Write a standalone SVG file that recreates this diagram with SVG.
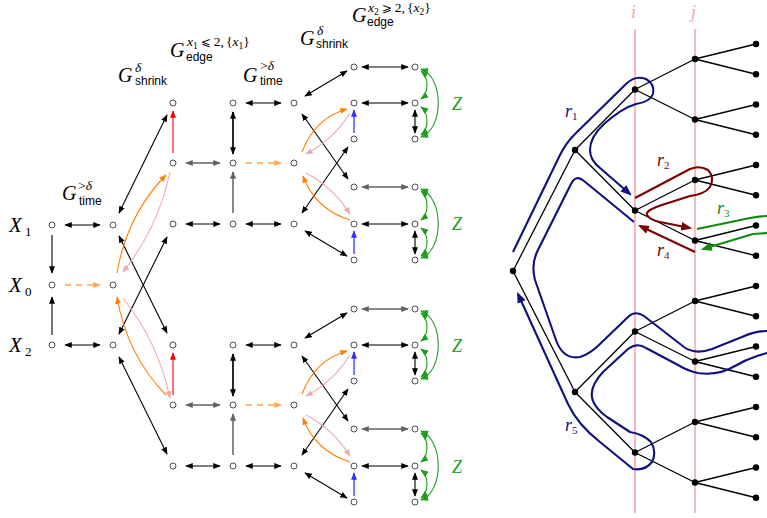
<svg xmlns="http://www.w3.org/2000/svg" width="767" height="518" viewBox="0 0 767 518">
<style>
.nd{fill:#fff;stroke:#3a3a3a;stroke-width:0.9}
.td{fill:#000}
.te{stroke:#000;stroke-width:1.3}
.c{fill:none;stroke-width:1.1}
.kd{stroke:#000;marker-start:url(#ak);marker-end:url(#ak)}
.kt{stroke-width:1.7}
.gd{stroke:#606060;stroke-width:1.5;marker-start:url(#ag);marker-end:url(#ag)}
.ge{stroke:#606060;stroke-width:1.5;marker-end:url(#ag)}
.ke{stroke:#000;marker-end:url(#ak)}
.re{stroke:#ff0000;marker-end:url(#ar)}
.oe{stroke:#ff8000;marker-end:url(#ao)}
.od{stroke:#ffa34d;stroke-width:1.3;stroke-dasharray:6 5;marker-end:url(#aod)}
.pe{stroke:#e9abab;marker-end:url(#ap)}
.be{stroke:#5c5cff;stroke-width:1.6;marker-end:url(#ab)}
.zd{stroke:#1e9e1e;marker-start:url(#az);marker-end:url(#az)}
.pk{stroke:#f5a5a5;stroke-width:1.5}
.rt{fill:none;stroke-width:2.1;stroke-linejoin:round}
.nv{stroke:#10107f}
.dr{stroke:#7f0000}
.dg{stroke:#128a12}
.m{font-family:"Liberation Serif","DejaVu Serif",serif;font-style:italic}
.u{font-family:"Liberation Serif","DejaVu Serif",serif;font-style:normal}
.rel{font-family:"DejaVu Sans","Liberation Sans",sans-serif;font-style:normal;font-size:12px}
.s{font-family:"Liberation Sans","DejaVu Sans",sans-serif}
.G{font-size:20px}
.sup{font-size:13.5px}
.ss{font-size:9.5px}
.sub{font-size:12px}
</style>
<defs>
<marker id="ak" viewBox="0 0 10 8" refX="9" refY="4" markerWidth="7.5" markerHeight="6" markerUnits="userSpaceOnUse" orient="auto-start-reverse"><path d="M0,0 L10,4 L0,8 Z" fill="#000"/></marker>
<marker id="ag" viewBox="0 0 10 8" refX="9" refY="4" markerWidth="7.5" markerHeight="6" markerUnits="userSpaceOnUse" orient="auto-start-reverse"><path d="M0,0 L10,4 L0,8 Z" fill="#606060"/></marker>
<marker id="ar" viewBox="0 0 10 8" refX="9" refY="4" markerWidth="7.5" markerHeight="6" markerUnits="userSpaceOnUse" orient="auto-start-reverse"><path d="M0,0 L10,4 L0,8 Z" fill="#ff0000"/></marker>
<marker id="ao" viewBox="0 0 10 8" refX="9" refY="4" markerWidth="7.5" markerHeight="6" markerUnits="userSpaceOnUse" orient="auto-start-reverse"><path d="M0,0 L10,4 L0,8 Z" fill="#ff8000"/></marker>
<marker id="aod" viewBox="0 0 10 8" refX="9" refY="4" markerWidth="7.5" markerHeight="6" markerUnits="userSpaceOnUse" orient="auto-start-reverse"><path d="M0,0 L10,4 L0,8 Z" fill="#ffa34d"/></marker>
<marker id="ap" viewBox="0 0 10 8" refX="9" refY="4" markerWidth="7.5" markerHeight="6" markerUnits="userSpaceOnUse" orient="auto-start-reverse"><path d="M0,0 L10,4 L0,8 Z" fill="#e9abab"/></marker>
<marker id="ab" viewBox="0 0 10 8" refX="9" refY="4" markerWidth="7.5" markerHeight="6" markerUnits="userSpaceOnUse" orient="auto-start-reverse"><path d="M0,0 L10,4 L0,8 Z" fill="#3030ff"/></marker>
<marker id="az" viewBox="0 0 10 8" refX="9" refY="4" markerWidth="8" markerHeight="6.4" markerUnits="userSpaceOnUse" orient="auto-start-reverse"><path d="M0,0 L10,4 L0,8 Z" fill="#1e9e1e"/></marker>
<marker id="anv" viewBox="0 0 10 8" refX="8" refY="4" markerWidth="11" markerHeight="8.8" markerUnits="userSpaceOnUse" orient="auto-start-reverse"><path d="M0,0 L10,4 L0,8 Z" fill="#10107f"/></marker>
<marker id="adr" viewBox="0 0 10 8" refX="8" refY="4" markerWidth="11" markerHeight="8.8" markerUnits="userSpaceOnUse" orient="auto-start-reverse"><path d="M0,0 L10,4 L0,8 Z" fill="#7f0000"/></marker>
<marker id="adg" viewBox="0 0 10 8" refX="8" refY="4" markerWidth="11" markerHeight="8.8" markerUnits="userSpaceOnUse" orient="auto-start-reverse"><path d="M0,0 L10,4 L0,8 Z" fill="#128a12"/></marker>
</defs>
<rect width="767" height="518" fill="#fff"/>

<g id="labels-left">
<text class="m" x="9" y="232" font-size="21">X</text><text class="u" x="25" y="236" font-size="13">1</text>
<text class="m" x="9" y="292" font-size="21">X</text><text class="u" x="25" y="296" font-size="13">0</text>
<text class="m" x="9" y="352" font-size="21">X</text><text class="u" x="25" y="356" font-size="13">2</text>

<text class="m G" x="62" y="200">G</text><text class="sup" x="78" y="190"><tspan class="u">&gt;</tspan><tspan class="m">δ</tspan></text><text class="s sub" x="79" y="205">time</text>
<text class="m G" x="118" y="82">G</text><text class="m sup" x="135" y="72">δ</text><text class="s sub" x="135" y="85">shrink</text>
<text class="m G" x="170" y="57">G</text><text class="sup" x="187" y="46"><tspan class="m">x</tspan><tspan class="u ss" dy="2.5">1</tspan><tspan class="rel" dy="-2.5" dx="3">⩽</tspan><tspan class="u" dx="3">2,</tspan><tspan class="u" dx="2">{</tspan><tspan class="m">x</tspan><tspan class="u ss" dy="2.5">1</tspan><tspan class="u" dy="-2.5">}</tspan></text><text class="s sub" x="186" y="61">edge</text>
<text class="m G" x="243" y="82">G</text><text class="sup" x="260" y="70"><tspan class="u">&gt;</tspan><tspan class="m">δ</tspan></text><text class="s sub" x="260" y="85">time</text>
<text class="m G" x="300" y="45">G</text><text class="m sup" x="317" y="35">δ</text><text class="s sub" x="316" y="48">shrink</text>
<text class="m G" x="352" y="22">G</text><text class="sup" x="368" y="12"><tspan class="m">x</tspan><tspan class="u ss" dy="2.5">2</tspan><tspan class="rel" dy="-2.5" dx="3">⩾</tspan><tspan class="u" dx="3">2,</tspan><tspan class="u" dx="2">{</tspan><tspan class="m">x</tspan><tspan class="u ss" dy="2.5">2</tspan><tspan class="u" dy="-2.5">}</tspan></text><text class="s sub" x="367" y="26">edge</text>

<text class="m" x="452" y="110" font-size="18" fill="#1e9e1e">Z</text>
<text class="m" x="452" y="230" font-size="18" fill="#1e9e1e">Z</text>
<text class="m" x="452" y="352" font-size="18" fill="#1e9e1e">Z</text>
<text class="m" x="452" y="473" font-size="18" fill="#1e9e1e">Z</text>
</g>

<g id="connectors">
<g id="conn-left">
<line class="c kd" x1="65" y1="225" x2="100" y2="225"/>
<line class="c od" x1="65" y1="285" x2="100" y2="285"/>
<line class="c kd" x1="65" y1="345" x2="100" y2="345"/>
<line class="c ke" x1="52" y1="235" x2="52" y2="273"/>
<line class="c ke" x1="52" y1="335" x2="52" y2="297"/>
<line class="c kd" x1="119" y1="213" x2="167" y2="115"/>
<line class="c kd" x1="119" y1="236" x2="167" y2="333"/>
<line class="c kd" x1="119" y1="334" x2="167" y2="237"/>
<line class="c kd" x1="119" y1="357" x2="167" y2="454"/>
<path class="c oe" d="M117,273 Q127,215 166,175"/>
<path class="c pe" d="M170,172 Q158,228 123,272"/>
<path class="c oe" d="M166,395 Q127,355 117,297"/>
<path class="c pe" d="M123,298 Q158,342 170,398"/>
</g>
<g id="conn-upper">
<line class="c gd" x1="186" y1="163" x2="220" y2="163"/>
<line class="c kd" x1="186" y1="224" x2="220" y2="224"/>
<line class="c re" x1="173" y1="153" x2="173" y2="111"/>
<line class="c kd kt" x1="233" y1="112" x2="233" y2="154"/>
<line class="c ge" x1="233" y1="213" x2="233" y2="172"/>
<line class="c kd" x1="246" y1="103" x2="281" y2="103"/>
<line class="c od" x1="246" y1="163" x2="281" y2="163"/>
<line class="c kd" x1="246" y1="224" x2="281" y2="224"/>
<line class="c kd" x1="305" y1="96" x2="347" y2="71"/>
<line class="c kd" x1="302" y1="114" x2="348" y2="179"/>
<line class="c kd" x1="302" y1="213" x2="348" y2="147"/>
<line class="c kd" x1="305" y1="231" x2="347" y2="256"/>
<path class="c oe" d="M302,152 Q315,118 347,109"/>
<path class="c pe" d="M350,113 Q333,140 306,154"/>
<path class="c oe" d="M350,220 Q315,209 303,176"/>
<path class="c pe" d="M306,173 Q333,187 350,214"/>
<line class="c be" x1="354" y1="133" x2="354" y2="110"/>
<line class="c be" x1="354" y1="254" x2="354" y2="231"/>
<line class="c kd" x1="362" y1="67" x2="408" y2="67"/>
<line class="c kd" x1="362" y1="103" x2="408" y2="103"/>
<line class="c gd" x1="362" y1="187" x2="408" y2="187"/>
<line class="c kd" x1="362" y1="224" x2="408" y2="224"/>
<line class="c kd" x1="415" y1="110" x2="415" y2="133"/>
<line class="c kd" x1="415" y1="231" x2="415" y2="254"/>
<path class="c zd" d="M421,71 C429,77 429,93 421,99"/>
<path class="c zd" d="M421,107 C429,113 429,129 421,135"/>
<path class="c zd" d="M421,69 C444,77 444,129 421,137"/>
<path class="c zd" d="M421,191 C429,197 429,214 421,220"/>
<path class="c zd" d="M421,228 C429,234 429,250 421,256"/>
<path class="c zd" d="M421,189 C444,198 444,250 421,258"/>
</g>
<g id="conn-lower" transform="translate(0,242)">
<line class="c gd" x1="186" y1="163" x2="220" y2="163"/>
<line class="c kd" x1="186" y1="224" x2="220" y2="224"/>
<line class="c re" x1="173" y1="153" x2="173" y2="111"/>
<line class="c kd kt" x1="233" y1="112" x2="233" y2="154"/>
<line class="c ge" x1="233" y1="213" x2="233" y2="172"/>
<line class="c kd" x1="246" y1="103" x2="281" y2="103"/>
<line class="c od" x1="246" y1="163" x2="281" y2="163"/>
<line class="c kd" x1="246" y1="224" x2="281" y2="224"/>
<line class="c kd" x1="305" y1="96" x2="347" y2="71"/>
<line class="c kd" x1="302" y1="114" x2="348" y2="179"/>
<line class="c kd" x1="302" y1="213" x2="348" y2="147"/>
<line class="c kd" x1="305" y1="231" x2="347" y2="256"/>
<path class="c oe" d="M302,152 Q315,118 347,109"/>
<path class="c pe" d="M350,113 Q333,140 306,154"/>
<path class="c oe" d="M350,220 Q315,209 303,176"/>
<path class="c pe" d="M306,173 Q333,187 350,214"/>
<line class="c be" x1="354" y1="133" x2="354" y2="110"/>
<line class="c be" x1="354" y1="254" x2="354" y2="231"/>
<line class="c gd" x1="362" y1="67" x2="408" y2="67"/>
<line class="c kd" x1="362" y1="103" x2="408" y2="103"/>
<line class="c gd" x1="362" y1="187" x2="408" y2="187"/>
<line class="c kd" x1="362" y1="224" x2="408" y2="224"/>
<line class="c kd" x1="415" y1="110" x2="415" y2="133"/>
<line class="c kd" x1="415" y1="231" x2="415" y2="254"/>
<path class="c zd" d="M421,71 C429,77 429,93 421,99"/>
<path class="c zd" d="M421,107 C429,113 429,129 421,135"/>
<path class="c zd" d="M421,69 C444,77 444,129 421,137"/>
<path class="c zd" d="M421,191 C429,197 429,214 421,220"/>
<path class="c zd" d="M421,228 C429,234 429,250 421,256"/>
<path class="c zd" d="M421,189 C444,198 444,250 421,258"/>
</g>

<g id="conn-tree">
<line class="pk" x1="635" y1="29" x2="635" y2="513"/>
<line class="pk" x1="695" y1="29" x2="695" y2="513"/>
<g class="te">
<line x1="513" y1="271" x2="575" y2="150"/><line x1="513" y1="271" x2="575" y2="392"/>
<line x1="575" y1="150" x2="635" y2="89.5"/><line x1="575" y1="150" x2="635" y2="210.5"/>
<line x1="575" y1="392" x2="635" y2="331.5"/><line x1="575" y1="392" x2="635" y2="452.5"/>
<line x1="635" y1="89.5" x2="695" y2="59"/><line x1="635" y1="89.5" x2="695" y2="119.5"/>
<line x1="635" y1="210.5" x2="695" y2="180"/><line x1="635" y1="210.5" x2="695" y2="240.5"/>
<line x1="635" y1="331.5" x2="695" y2="301"/><line x1="635" y1="331.5" x2="695" y2="361.5"/>
<line x1="635" y1="452.5" x2="695" y2="422"/><line x1="635" y1="452.5" x2="695" y2="482.5"/>
<line x1="695" y1="59" x2="756" y2="44"/><line x1="695" y1="59" x2="756" y2="74.25"/>
<line x1="695" y1="119.5" x2="756" y2="104.5"/><line x1="695" y1="119.5" x2="756" y2="134.75"/>
<line x1="695" y1="180" x2="756" y2="165"/><line x1="695" y1="180" x2="756" y2="195.25"/>
<line x1="695" y1="240.5" x2="756" y2="225.5"/><line x1="695" y1="240.5" x2="756" y2="255.75"/>
<line x1="695" y1="301" x2="756" y2="286"/><line x1="695" y1="301" x2="756" y2="316.25"/>
<line x1="695" y1="361.5" x2="756" y2="346.5"/><line x1="695" y1="361.5" x2="756" y2="376.75"/>
<line x1="695" y1="422" x2="756" y2="407"/><line x1="695" y1="422" x2="756" y2="437.25"/>
<line x1="695" y1="482.5" x2="756" y2="467.5"/><line x1="695" y1="482.5" x2="756" y2="497.75"/>
</g>
<path class="rt nv" marker-end="url(#anv)" d="M513,252 L559,157 Q565,144 575,134 L626,84 Q635,75 646,79 Q655,84 653,94 Q650,102 636,104 Q622,108 604,124 Q590,137 590,150 Q590,160 600,168 L630,194"/>
<path class="rt dr" marker-end="url(#adr)" d="M635,198 L690,169 Q700,165 708,170 Q715,177 710,187 Q705,194 690,196 L665,204 Q645,210 647,215 Q650,220 660,222 L690,228"/>
<path class="rt dg" marker-end="url(#adg)" d="M697,229 L750,218 Q760,216 767,216 Q782,216 782,225 Q782,233 767,233 L753,234 L703,249"/>
<path class="rt dr" marker-end="url(#adr)" d="M695,252 L640,226"/>
<path class="rt nv" marker-end="url(#anv)" d="M634,222 L584,181 Q576,174 571,184 L537,252 Q531,265 535,280 L556,340 Q563,360 580,357 Q590,354 600,344 L628,317 Q635,310 644,316 L684,347 Q695,355 712,349 L742,337 Q755,331 767,331 Q782,331 782,342 Q782,353 767,353 L757,356 Q745,360 735,366 Q718,376 698,373 Q688,371 678,365 L646,348 Q637,342 628,349 L603,372 Q588,388 593,401 Q597,410 607,417 L630,432 Q643,434 651,442 Q657,452 652,462 Q645,471 633,469 L600,442 Q578,425 568,404 L518,294"/>
</g>
</g>

<g id="labels-tree">
<text class="m" x="631" y="18" font-size="18" fill="#f5a5a5">i</text>
<text class="m" x="691" y="18" font-size="18" fill="#f5a5a5">j</text>
<text class="m" x="565" y="117" font-size="18" fill="#10107f">r<tspan class="u" font-size="11" dy="3">1</tspan></text>
<text class="m" x="657" y="166" font-size="18" fill="#7f0000">r<tspan class="u" font-size="11" dy="3">2</tspan></text>
<text class="m" x="717" y="214" font-size="18" fill="#128a12">r<tspan class="u" font-size="11" dy="3">3</tspan></text>
<text class="m" x="657" y="256" font-size="18" fill="#7f0000">r<tspan class="u" font-size="11" dy="3">4</tspan></text>
<text class="m" x="565" y="431" font-size="18" fill="#10107f">r<tspan class="u" font-size="11" dy="3">5</tspan></text>
</g>

<g id="n-x1"><circle class="nd" cx="52" cy="225" r="3"/></g>
<g id="n-x0"><circle class="nd" cx="52" cy="285" r="3"/></g>
<g id="n-x2"><circle class="nd" cx="52" cy="345" r="3"/></g>
<g id="n-b1"><circle class="nd" cx="113" cy="225" r="3"/></g>
<g id="n-b0"><circle class="nd" cx="113" cy="285" r="3"/></g>
<g id="n-b2"><circle class="nd" cx="113" cy="345" r="3"/></g>
<g id="n-c1"><circle class="nd" cx="173" cy="103" r="3"/></g>
<g id="n-c2"><circle class="nd" cx="173" cy="163" r="3"/></g>
<g id="n-c3"><circle class="nd" cx="173" cy="224" r="3"/></g>
<g id="n-c4"><circle class="nd" cx="173" cy="345" r="3"/></g>
<g id="n-c5"><circle class="nd" cx="173" cy="405" r="3"/></g>
<g id="n-c6"><circle class="nd" cx="173" cy="466" r="3"/></g>
<g id="n-d1"><circle class="nd" cx="233" cy="103" r="3"/></g>
<g id="n-d2"><circle class="nd" cx="233" cy="163" r="3"/></g>
<g id="n-d3"><circle class="nd" cx="233" cy="224" r="3"/></g>
<g id="n-d4"><circle class="nd" cx="233" cy="345" r="3"/></g>
<g id="n-d5"><circle class="nd" cx="233" cy="405" r="3"/></g>
<g id="n-d6"><circle class="nd" cx="233" cy="466" r="3"/></g>
<g id="n-e1"><circle class="nd" cx="294" cy="103" r="3"/></g>
<g id="n-e2"><circle class="nd" cx="294" cy="163" r="3"/></g>
<g id="n-e3"><circle class="nd" cx="294" cy="224" r="3"/></g>
<g id="n-e4"><circle class="nd" cx="294" cy="345" r="3"/></g>
<g id="n-e5"><circle class="nd" cx="294" cy="405" r="3"/></g>
<g id="n-e6"><circle class="nd" cx="294" cy="466" r="3"/></g>
<g id="n-f1"><circle class="nd" cx="354" cy="67" r="3"/></g>
<g id="n-f2"><circle class="nd" cx="354" cy="103" r="3"/></g>
<g id="n-f3"><circle class="nd" cx="354" cy="139" r="3"/></g>
<g id="n-f4"><circle class="nd" cx="354" cy="187" r="3"/></g>
<g id="n-f5"><circle class="nd" cx="354" cy="224" r="3"/></g>
<g id="n-f6"><circle class="nd" cx="354" cy="260" r="3"/></g>
<g id="n-f7"><circle class="nd" cx="354" cy="309" r="3"/></g>
<g id="n-f8"><circle class="nd" cx="354" cy="345" r="3"/></g>
<g id="n-f9"><circle class="nd" cx="354" cy="381" r="3"/></g>
<g id="n-f10"><circle class="nd" cx="354" cy="429" r="3"/></g>
<g id="n-f11"><circle class="nd" cx="354" cy="466" r="3"/></g>
<g id="n-f12"><circle class="nd" cx="354" cy="502" r="3"/></g>
<g id="n-g1"><circle class="nd" cx="415" cy="67" r="3"/></g>
<g id="n-g2"><circle class="nd" cx="415" cy="103" r="3"/></g>
<g id="n-g3"><circle class="nd" cx="415" cy="139" r="3"/></g>
<g id="n-g4"><circle class="nd" cx="415" cy="187" r="3"/></g>
<g id="n-g5"><circle class="nd" cx="415" cy="224" r="3"/></g>
<g id="n-g6"><circle class="nd" cx="415" cy="260" r="3"/></g>
<g id="n-g7"><circle class="nd" cx="415" cy="309" r="3"/></g>
<g id="n-g8"><circle class="nd" cx="415" cy="345" r="3"/></g>
<g id="n-g9"><circle class="nd" cx="415" cy="381" r="3"/></g>
<g id="n-g10"><circle class="nd" cx="415" cy="429" r="3"/></g>
<g id="n-g11"><circle class="nd" cx="415" cy="466" r="3"/></g>
<g id="n-g12"><circle class="nd" cx="415" cy="502" r="3"/></g>

<g id="t-root"><circle class="td" cx="513" cy="271" r="3.2"/></g>
<g id="t-a"><circle class="td" cx="575" cy="150" r="3.2"/></g>
<g id="t-b"><circle class="td" cx="575" cy="392" r="3.2"/></g>
<g id="t-c1"><circle class="td" cx="635" cy="89.5" r="3.2"/></g>
<g id="t-c2"><circle class="td" cx="635" cy="210.5" r="3.2"/></g>
<g id="t-c3"><circle class="td" cx="635" cy="331.5" r="3.2"/></g>
<g id="t-c4"><circle class="td" cx="635" cy="452.5" r="3.2"/></g>
<g id="t-d1"><circle class="td" cx="695" cy="59" r="3.2"/></g>
<g id="t-d2"><circle class="td" cx="695" cy="119.5" r="3.2"/></g>
<g id="t-d3"><circle class="td" cx="695" cy="180" r="3.2"/></g>
<g id="t-d4"><circle class="td" cx="695" cy="240.5" r="3.2"/></g>
<g id="t-d5"><circle class="td" cx="695" cy="301" r="3.2"/></g>
<g id="t-d6"><circle class="td" cx="695" cy="361.5" r="3.2"/></g>
<g id="t-d7"><circle class="td" cx="695" cy="422" r="3.2"/></g>
<g id="t-d8"><circle class="td" cx="695" cy="482.5" r="3.2"/></g>
<g id="t-l1"><circle class="td" cx="756" cy="44" r="3.2"/></g>
<g id="t-l2"><circle class="td" cx="756" cy="74.25" r="3.2"/></g>
<g id="t-l3"><circle class="td" cx="756" cy="104.5" r="3.2"/></g>
<g id="t-l4"><circle class="td" cx="756" cy="134.75" r="3.2"/></g>
<g id="t-l5"><circle class="td" cx="756" cy="165" r="3.2"/></g>
<g id="t-l6"><circle class="td" cx="756" cy="195.25" r="3.2"/></g>
<g id="t-l7"><circle class="td" cx="756" cy="225.5" r="3.2"/></g>
<g id="t-l8"><circle class="td" cx="756" cy="255.75" r="3.2"/></g>
<g id="t-l9"><circle class="td" cx="756" cy="286" r="3.2"/></g>
<g id="t-l10"><circle class="td" cx="756" cy="316.25" r="3.2"/></g>
<g id="t-l11"><circle class="td" cx="756" cy="346.5" r="3.2"/></g>
<g id="t-l12"><circle class="td" cx="756" cy="376.75" r="3.2"/></g>
<g id="t-l13"><circle class="td" cx="756" cy="407" r="3.2"/></g>
<g id="t-l14"><circle class="td" cx="756" cy="437.25" r="3.2"/></g>
<g id="t-l15"><circle class="td" cx="756" cy="467.5" r="3.2"/></g>
<g id="t-l16"><circle class="td" cx="756" cy="497.75" r="3.2"/></g>
</svg>
